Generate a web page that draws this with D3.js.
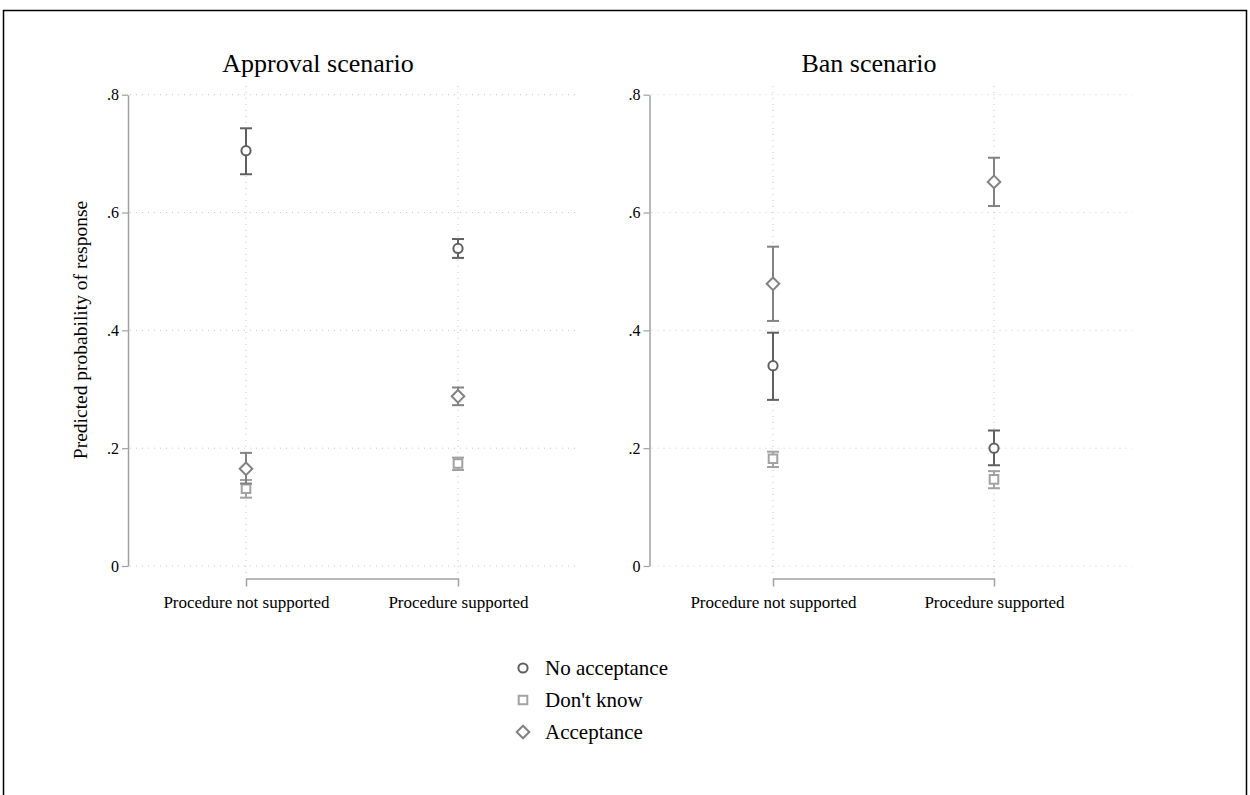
<!DOCTYPE html>
<html><head><meta charset="utf-8">
<script src="https://cdn.jsdelivr.net/npm/d3@7"></script>
<style>body{margin:0;background:#fff;} svg{display:block;}</style>
</head><body>
<svg id="c" width="1250" height="795"></svg>
<script>
const panels = ["Approval scenario", "Ban scenario"];
const categories = ["Procedure not supported", "Procedure supported"];
const seriesNames = ["No acceptance", "Don't know", "Acceptance"];
const yTicks = [0, 0.2, 0.4, 0.6, 0.8];
const yTickLabels = ["0", ".2", ".4", ".6", ".8"];
// [panel][category] values for each series: estimate, lower, upper
const noAcceptance = [[[0.705, 0.665, 0.743], [0.539, 0.523, 0.555]],
                      [[0.340, 0.282, 0.396], [0.200, 0.171, 0.230]]];
const dontKnow     = [[[0.131, 0.116, 0.146], [0.174, 0.163, 0.184]],
                      [[0.182, 0.168, 0.194], [0.147, 0.132, 0.161]]];
const acceptance   = [[[0.165, 0.140, 0.192], [0.288, 0.273, 0.303]],
                      [[0.479, 0.416, 0.542], [0.652, 0.611, 0.693]]];

const seriesData = [noAcceptance, dontKnow, acceptance];
const seriesColors = ["#606060", "#a2a2a2", "#828282"];
const seriesShapes = ["circle", "square", "diamond"];

const svg = d3.select("#c");
const font = "'Liberation Serif', 'Times New Roman', serif";

// outer frame
svg.append("path").attr("d", "M3.5,800 V10.5 H1246.5 V800")
  .attr("fill", "none").attr("stroke", "#000").attr("stroke-width", 1.5);

const layout = [
  {axisX: 128, cat1: 246, cat2: 458, right: 576, titleX: 318},
  {axisX: 649.5, cat1: 773, cat2: 994, right: 1132, titleX: 869}
];
const y = d3.scaleLinear().domain([0, 0.8]).range([566, 94.7]);

function markerPath(shape) {
  if (shape === "circle") return d3.arc()({innerRadius: 0, outerRadius: 4.6, startAngle: 0, endAngle: 2 * Math.PI});
  if (shape === "square") return "M-4.3,-4.3H4.3V4.3H-4.3Z";
  return "M0,-6.3L6.3,0L0,6.3L-6.3,0Z";
}

layout.forEach((L, p) => {
  const g = svg.append("g");
  const x = d3.scalePoint().domain(categories).range([L.cat1, L.cat2]);

  // grid horizontal
  g.selectAll("line.hg").data(yTicks).join("line")
    .attr("x1", L.axisX + 2).attr("x2", L.right)
    .attr("y1", d => y(d)).attr("y2", d => y(d))
    .attr("stroke", "#c8c8c8").attr("stroke-width", 1).attr("stroke-dasharray", "1,5");
  // grid vertical
  g.selectAll("line.vg").data(categories).join("line")
    .attr("x1", d => x(d)).attr("x2", d => x(d))
    .attr("y1", 86).attr("y2", 574)
    .attr("stroke", "#c8c8c8").attr("stroke-width", 1).attr("stroke-dasharray", "1,5");

  // y axis
  const yAxis = d3.axisLeft(y).tickValues(yTicks).tickFormat((d, i) => yTickLabels[i])
    .tickSize(6).tickSizeOuter(0).tickPadding(3);
  const ya = g.append("g").attr("transform", `translate(${L.axisX},0)`).call(yAxis);
  ya.select(".domain").attr("stroke", "#a0a0a0").attr("stroke-width", 1.5);
  ya.selectAll(".tick line").attr("stroke", "#a0a0a0").attr("stroke-width", 1.2);
  ya.selectAll(".tick text").attr("font-family", font).attr("font-size", 16).attr("fill", "#000");

  // x axis bracket
  const xAxis = d3.axisBottom(x).tickSize(8).tickSizeOuter(0).tickPadding(9);
  const xa = g.append("g").attr("transform", `translate(0,578.5)`).call(xAxis);
  xa.select(".domain").attr("stroke", "#a0a0a0").attr("stroke-width", 1.5);
  xa.selectAll(".tick line").attr("stroke", "#a0a0a0").attr("stroke-width", 1.5);
  xa.selectAll(".tick text").attr("font-family", font).attr("font-size", 17).attr("fill", "#000");

  // title
  g.append("text").attr("x", L.titleX).attr("y", 72).attr("text-anchor", "middle")
    .attr("font-family", font).attr("font-size", 26).attr("fill", "#000").text(panels[p]);

  // series: draw in order so that the darkest is on top
  [1, 2, 0].forEach(s => {
    const vals = seriesData[s][p];
    const col = seriesColors[s];
    categories.forEach((c, ci) => {
      const [est, lo, hi] = vals[ci];
      const cx = x(c);
      g.append("line").attr("x1", cx).attr("x2", cx).attr("y1", y(lo)).attr("y2", y(hi))
        .attr("stroke", col).attr("stroke-width", 2);
      [lo, hi].forEach(v => g.append("line").attr("x1", cx - 6).attr("x2", cx + 6)
        .attr("y1", y(v)).attr("y2", y(v)).attr("stroke", col).attr("stroke-width", 2));
      g.append("path").attr("d", markerPath(seriesShapes[s]))
        .attr("transform", `translate(${cx},${y(est)})`)
        .attr("fill", "#fff").attr("stroke", col).attr("stroke-width", 2);
    });
  });
});

// y-axis title
svg.append("text").attr("transform", "translate(87,330) rotate(-90)")
  .attr("text-anchor", "middle").attr("font-family", font).attr("font-size", 19.5)
  .attr("fill", "#000").text("Predicted probability of response");

// legend
const legend = svg.append("g");
seriesNames.forEach((n, i) => {
  const ly = 668 + i * 32;
  legend.append("path").attr("d", markerPath(seriesShapes[i]))
    .attr("transform", `translate(523,${ly})`)
    .attr("fill", "#fff").attr("stroke", seriesColors[i]).attr("stroke-width", 2);
  legend.append("text").attr("x", 545).attr("y", ly + 7).attr("font-family", font)
    .attr("font-size", 21).attr("fill", "#000").text(n);
});
</script>
</body></html>
